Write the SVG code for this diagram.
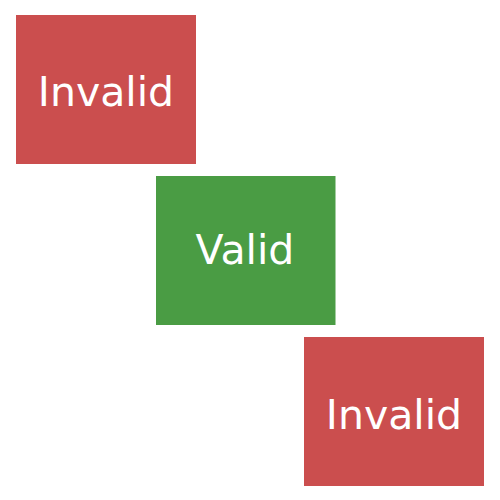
<svg xmlns="http://www.w3.org/2000/svg" width="500" height="500" viewBox="0 0 500 500">
<style>
.invalid{fill:#CB4E4E}
.valid{fill:#4A9C44}
.lbl{font-family:"DejaVu Sans",Verdana,sans-serif;font-size:41px;fill:#FFFFFF;text-anchor:middle}
</style>
<rect width="500" height="500" fill="#FFFFFF"/>
<g id="connectors"></g>
<g id="invalid-top">
<rect class="invalid" x="16" y="15" width="180" height="149"/>
<text class="lbl" x="106" y="106">Invalid</text>
</g>
<g id="valid">
<rect class="valid" x="156" y="176" width="179.5" height="149"/>
<text class="lbl" x="245" y="263.5">Valid</text>
</g>
<g id="invalid-bottom">
<rect class="invalid" x="304" y="337" width="180" height="149"/>
<text class="lbl" x="394" y="428.5">Invalid</text>
</g>
</svg>
